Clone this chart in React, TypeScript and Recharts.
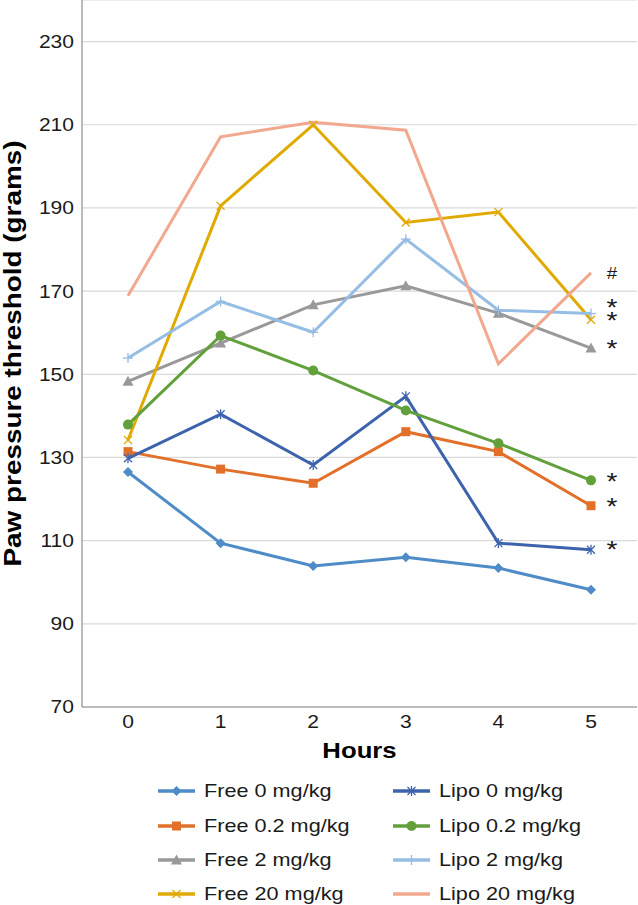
import React from "react";
import {
  LineChart,
  Line,
  XAxis,
  YAxis,
  CartesianGrid,
  Legend,
} from "recharts";

const hours = ["0", "1", "2", "3", "4", "5"];
const yTicks = [70, 90, 110, 130, 150, 170, 190, 210, 230];

const free0 = [126.5, 109.4, 103.9, 106.0, 103.4, 98.2];
const free02 = [131.4, 127.2, 123.8, 136.2, 131.4, 118.4];
const free2 = [148.3, 157.5, 166.7, 171.3, 164.7, 156.3];
const free20 = [134.2, 190.5, 210.0, 186.5, 189.0, 163.1];
const lipo0 = [129.8, 140.4, 128.2, 144.7, 109.4, 107.8];
const lipo02 = [137.9, 159.3, 150.9, 141.3, 133.4, 124.5];
const lipo2 = [153.9, 167.5, 160.1, 182.5, 165.4, 164.6];
const lipo20 = [168.9, 207.1, 210.6, 208.7, 152.5, 174.4];

// significance marks next to the 5 h points
const series = [
  { key: "free0", name: "Free 0 mg/kg", values: free0, color: "#4f8cc7", shape: "diamond", mark: "", markDy: 0 },
  { key: "free02", name: "Free 0.2 mg/kg", values: free02, color: "#e2702a", shape: "square", mark: "*", markDy: 9.4 },
  { key: "free2", name: "Free 2 mg/kg", values: free2, color: "#999999", shape: "triangle", mark: "*", markDy: 9 },
  { key: "free20", name: "Free 20 mg/kg", values: free20, color: "#e0aa00", shape: "x", mark: "*", markDy: 8.7 },
  { key: "lipo0", name: "Lipo 0 mg/kg", values: lipo0, color: "#3d63ad", shape: "star", mark: "*", markDy: 8.7 },
  { key: "lipo02", name: "Lipo 0.2 mg/kg", values: lipo02, color: "#62a03c", shape: "circle", mark: "*", markDy: 9.7 },
  { key: "lipo2", name: "Lipo 2 mg/kg", values: lipo2, color: "#96bde4", shape: "plus", mark: "*", markDy: 2.4 },
  { key: "lipo20", name: "Lipo 20 mg/kg", values: lipo20, color: "#f2a88e", shape: "none", mark: "#", markDy: 6.3 },
];

const legendOrder = ["free0", "lipo0", "free02", "lipo02", "free2", "lipo2", "free20", "lipo20"];

const data = hours.map((h, i) => {
  const row: Record<string, string | number> = { hour: h };
  series.forEach((s) => {
    row[s.key] = s.values[i];
  });
  return row;
});

const FONT = "'Liberation Sans', Arial, sans-serif";
const SX = 1.17; // the reference text is a bit wider than plain Arial

function WideText({ x, y, anchor = "start", size, bold, children }: any) {
  return (
    <text
      transform={`translate(${x},${y}) scale(${SX},1)`}
      textAnchor={anchor}
      fontSize={size}
      fontWeight={bold ? "bold" : "normal"}
      fontFamily={FONT}
      fill={bold ? "#000" : "#1a1a1a"}
    >
      {children}
    </text>
  );
}

function XTick({ x, y, payload }: any) {
  return <WideText x={x} y={y + 21} anchor="middle" size={18}>{payload.value}</WideText>;
}

function YTick({ x, y, payload }: any) {
  return <WideText x={x} y={y + 6.4} anchor="end" size={18}>{payload.value}</WideText>;
}

function Marker({ cx, cy, shape, color }: { cx: number; cy: number; shape: string; color: string }) {
  if (cx == null || cy == null) return null;
  switch (shape) {
    case "diamond":
      return <polygon points={`${cx},${cy - 5} ${cx + 5},${cy} ${cx},${cy + 5} ${cx - 5},${cy}`} fill={color} />;
    case "square":
      return <rect x={cx - 4.5} y={cy - 4.5} width={9} height={9} fill={color} />;
    case "triangle":
      return <polygon points={`${cx},${cy - 5.5} ${cx + 5.5},${cy + 4.5} ${cx - 5.5},${cy + 4.5}`} fill={color} />;
    case "circle":
      return <circle cx={cx} cy={cy} r={5} fill={color} />;
    case "x":
      return (
        <g stroke={color} strokeWidth={1.3}>
          <line x1={cx - 4} y1={cy - 4} x2={cx + 4} y2={cy + 4} />
          <line x1={cx - 4} y1={cy + 4} x2={cx + 4} y2={cy - 4} />
        </g>
      );
    case "star":
      return (
        <g stroke={color} strokeWidth={1.3}>
          <line x1={cx - 4} y1={cy - 4} x2={cx + 4} y2={cy + 4} />
          <line x1={cx - 4} y1={cy + 4} x2={cx + 4} y2={cy - 4} />
          <line x1={cx} y1={cy - 5} x2={cx} y2={cy + 5} />
        </g>
      );
    case "plus":
      return (
        <g stroke={color} strokeWidth={1.3}>
          <line x1={cx - 5} y1={cy} x2={cx + 5} y2={cy} />
          <line x1={cx} y1={cy - 5} x2={cx} y2={cy + 5} />
        </g>
      );
    default:
      return null;
  }
}

function LegendBox() {
  return (
    <div
      style={{
        display: "grid",
        gridTemplateColumns: "235px 235px",
        marginLeft: 158,
        fontFamily: FONT,
        fontSize: 18.5,
        color: "#1a1a1a",
      }}
    >
      {legendOrder.map((k) => {
        const s = series.find((x) => x.key === k)!;
        return (
          <div key={k} style={{ display: "flex", alignItems: "center", height: 34.4 }}>
            <svg width={37} height={14} style={{ marginRight: 9, flex: "none" }}>
              <line x1={0} y1={7} x2={37} y2={7} stroke={s.color} strokeWidth={3.3} />
              <Marker cx={18.5} cy={7} shape={s.shape} color={s.color} />
            </svg>
            <span
              style={{
                display: "inline-block",
                whiteSpace: "nowrap",
                transform: `scaleX(${SX})`,
                transformOrigin: "left center",
              }}
            >
              {s.name}
            </span>
          </div>
        );
      })}
    </div>
  );
}

export default function App() {
  return (
    <div style={{ position: "absolute", left: 0, top: 0, width: 638, height: 905, background: "#fff" }}>
      <LineChart
        width={638}
        height={905}
        data={data}
        margin={{ top: 0, right: 1, bottom: 168, left: 0 }}
        style={{ fontFamily: FONT }}
      >
        <CartesianGrid vertical={false} stroke="#d9d9d9" strokeWidth={1.2} />
        <XAxis
          dataKey="hour"
          padding={{ left: 46, right: 46 }}
          axisLine={{ stroke: "#8c8c8c", strokeWidth: 1.2 }}
          tickLine={false}
          tickSize={0}
          tickMargin={0}
          height={30}
          tick={<XTick />}
          label={(p: any) => (
            <WideText
              key="xlabel"
              x={p.viewBox.x + p.viewBox.width / 2}
              y={p.viewBox.y + 51}
              anchor="middle"
              size={22}
              bold
            >
              Hours
            </WideText>
          )}
        />
        <YAxis
          domain={[70, 240]}
          ticks={yTicks}
          width={82}
          axisLine={{ stroke: "#8c8c8c", strokeWidth: 1.2 }}
          tickLine={false}
          tickSize={0}
          tickMargin={8}
          tick={<YTick />}
          label={(p: any) => (
            <text
              key="ylabel"
              transform={`translate(${p.viewBox.x + 21},${p.viewBox.y + p.viewBox.height / 2}) rotate(-90)`}
              textAnchor="middle"
              fontSize={24}
              fontWeight="bold"
              fontFamily={FONT}
              fill="#000"
              textLength={426}
              lengthAdjust="spacingAndGlyphs"
            >
              Paw pressure threshold (grams)
            </text>
          )}
        />
        <Legend
          verticalAlign="middle"
          content={() => <LegendBox />}
          wrapperStyle={{ position: "absolute", left: 0, top: 774, width: 638 }}
        />
        {series.map((s) => (
          <Line
            key={s.key}
            dataKey={s.key}
            name={s.name}
            stroke={s.color}
            strokeWidth={3}
            type="linear"
            isAnimationActive={false}
            dot={(p: any) => <Marker key={`${s.key}-${p.index}`} cx={p.cx} cy={p.cy} shape={s.shape} color={s.color} />}
            activeDot={false}
            label={(p: any) =>
              p.index === hours.length - 1 && s.mark ? (
                <WideText key={`${s.key}-lab`} x={p.x + 21} y={p.y + s.markDy} anchor="middle" size={s.mark === "#" ? 16 : 24}>
                  {s.mark}
                </WideText>
              ) : (
                <g key={`${s.key}-lab-${p.index}`} />
              )
            }
          />
        ))}
      </LineChart>
    </div>
  );
}
